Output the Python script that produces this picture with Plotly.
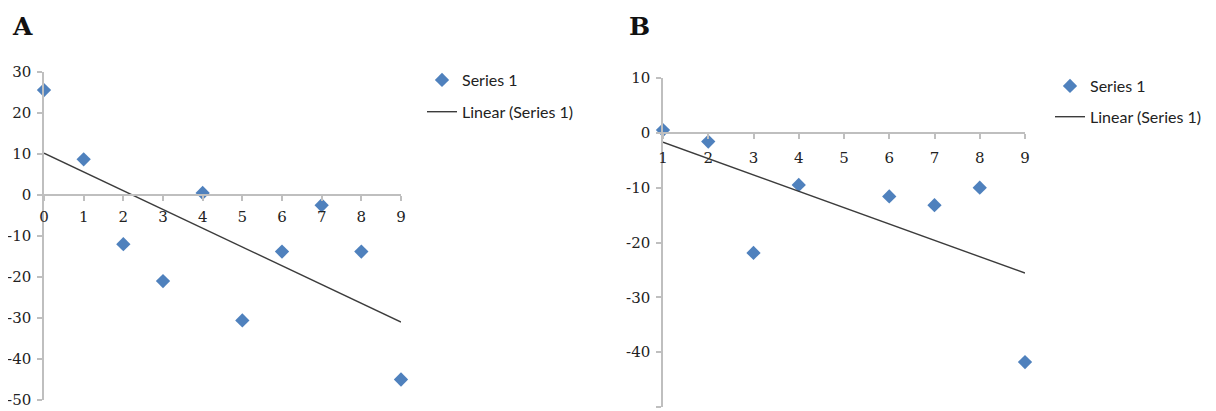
import numpy as np
import plotly.graph_objects as go

# ---- data ----
xa = [0, 1, 2, 3, 4, 5, 6, 7, 8, 9]
ya = [25.6, 8.7, -12.0, -21.0, 0.5, -30.6, -13.8, -2.5, -13.8, -45.0]
xb = [1, 2, 3, 4, 6, 7, 8, 9]
yb = [0.5, -1.6, -21.9, -9.5, -11.6, -13.2, -10.0, -41.8]

ya_ticks = [-50, -40, -30, -20, -10, 0, 10, 20, 30]
yb_ticks = [-50, -40, -30, -20, -10, 0, 10]
xa_ticks = list(range(0, 10))
xb_ticks = list(range(1, 10))

OFF = 8  # page body margin
W, H = 1216 - OFF, 411 - OFF
BLUE = "#4F81BD"
AXC = "#BFBFBF"
LINEC = "#3C3C3C"
SERIF = "DejaVu Serif"
SANS = "Lato"

def fit(x, y, xs):
    k, b = np.polyfit(x, y, 1)
    return [k * v + b for v in xs]

ends_a = [min(xa_ticks), max(xa_ticks)]
ends_b = [min(xb_ticks), max(xb_ticks)]

fig = go.Figure()
fig.add_trace(go.Scatter(x=xa, y=ya, mode="markers", name="Series 1",
                         marker=dict(symbol="diamond", size=11, color=BLUE),
                         cliponaxis=False, xaxis="x", yaxis="y",
                         legend="legend", legendgroup="a1"))
fig.add_trace(go.Scatter(x=ends_a, y=fit(xa, ya, ends_a), mode="lines",
                         name="Linear (Series 1)",
                         line=dict(color=LINEC, width=1.4),
                         cliponaxis=False, xaxis="x", yaxis="y",
                         legend="legend", legendgroup="a2"))
fig.add_trace(go.Scatter(x=xb, y=yb, mode="markers", name="Series 1",
                         marker=dict(symbol="diamond", size=11, color=BLUE),
                         cliponaxis=False, xaxis="x2", yaxis="y2",
                         legend="legend2", legendgroup="b1"))
fig.add_trace(go.Scatter(x=ends_b, y=fit(xb, yb, ends_b), mode="lines",
                         name="Linear (Series 1)",
                         line=dict(color=LINEC, width=1.4),
                         cliponaxis=False, xaxis="x2", yaxis="y2",
                         legend="legend2", legendgroup="b2"))

def px_x(p):
    return (p - OFF) / W

def px_y(p):
    return 1 - (p - OFF) / H

ya_dom = [px_y(400), px_y(72)]
yb_dom = [px_y(407), px_y(78)]
pos_a = ya_dom[0] + (0 - ya_ticks[0]) / (ya_ticks[-1] - ya_ticks[0]) * (ya_dom[1] - ya_dom[0])
pos_b = yb_dom[0] + (0 - yb_ticks[0]) / (yb_ticks[-1] - yb_ticks[0]) * (yb_dom[1] - yb_dom[0])

tickfont = dict(family=SERIF, size=15, color="#222222")

common = dict(showline=True, linecolor=AXC, linewidth=1.5, ticks="outside",
              ticklen=5, tickcolor=AXC, tickwidth=1.5, showgrid=False,
              zeroline=False, tickfont=tickfont, automargin=False)

fig.update_layout(
    template="none",
    width=W, height=H, margin=dict(l=0, r=0, t=0, b=0, pad=0),
    paper_bgcolor="white", plot_bgcolor="white",
    xaxis=dict(domain=[px_x(44), px_x(401)], range=[xa_ticks[0], xa_ticks[-1]],
               tickvals=xa_ticks, ticktext=[str(v) for v in xa_ticks],
               anchor="free", position=pos_a, ticklabelstandoff=3, **common),
    yaxis=dict(domain=ya_dom, range=[ya_ticks[0], ya_ticks[-1]],
               tickvals=ya_ticks, ticktext=[str(v) for v in ya_ticks],
               anchor="x", ticklabelstandoff=3, **common),
    xaxis2=dict(domain=[px_x(663), px_x(1025)], range=[xb_ticks[0], xb_ticks[-1]],
                tickvals=xb_ticks, ticktext=[str(v) for v in xb_ticks],
                anchor="free", position=pos_b, ticklabelstandoff=6, **common),
    yaxis2=dict(domain=yb_dom, range=[yb_ticks[0], yb_ticks[-1]],
                tickvals=yb_ticks, ticktext=[str(v) for v in yb_ticks],
                anchor="x2", ticklabelstandoff=3, **common),
    legend=dict(x=px_x(422), y=px_y(63), xanchor="left", yanchor="top",
                font=dict(family=SANS, size=16, color="#222222"),
                tracegroupgap=8, bgcolor="rgba(0,0,0,0)", borderwidth=0),
    legend2=dict(x=px_x(1050), y=px_y(69), xanchor="left", yanchor="top",
                 font=dict(family=SANS, size=16, color="#222222"),
                 tracegroupgap=7, bgcolor="rgba(0,0,0,0)", borderwidth=0),
    showlegend=True,
    annotations=[
        dict(text="<b>A</b>", x=px_x(10), y=px_y(10), xref="paper", yref="paper",
             xanchor="left", yanchor="top", showarrow=False,
             font=dict(family=SERIF, size=25, color="#111111")),
        dict(text="<b>B</b>", x=px_x(627), y=px_y(10), xref="paper", yref="paper",
             xanchor="left", yanchor="top", showarrow=False,
             font=dict(family=SERIF, size=25, color="#111111")),
    ],
)

fig.write_html("out.html")
